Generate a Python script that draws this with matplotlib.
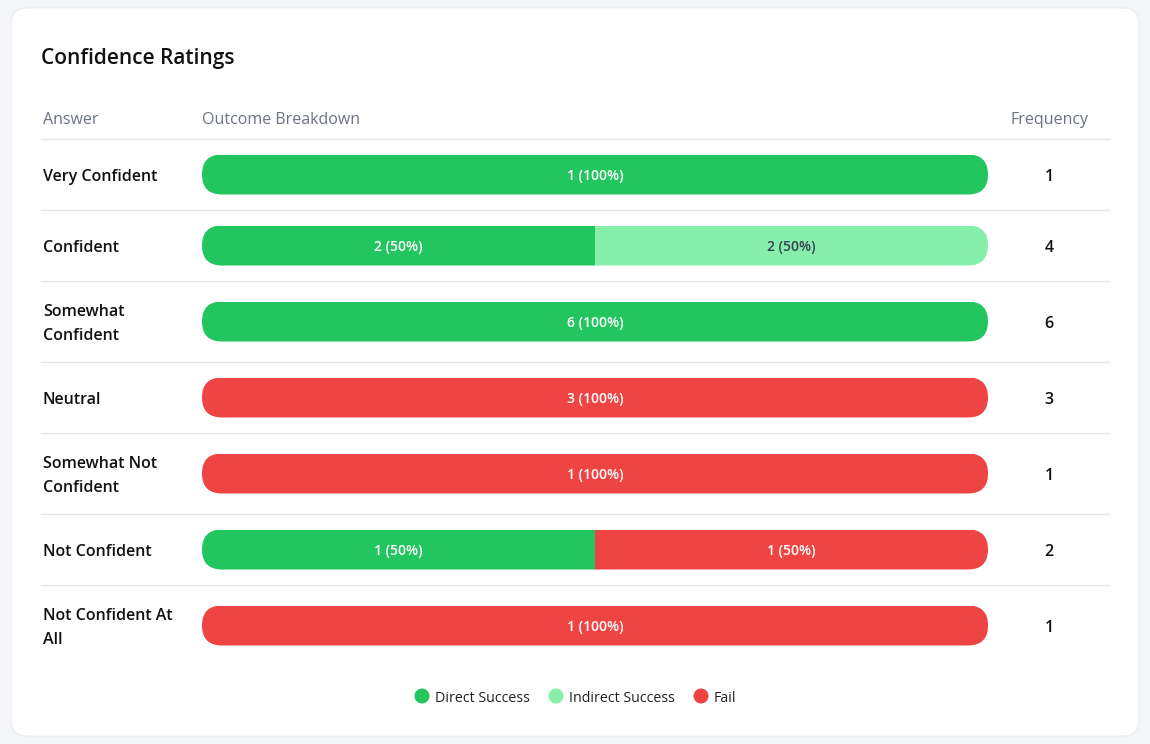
import matplotlib
matplotlib.use('Agg')
import matplotlib.pyplot as plt
from matplotlib.patches import FancyBboxPatch, Rectangle, Circle

# Daten
answers = ['Very Confident', 'Confident', 'Somewhat\nConfident', 'Neutral',
           'Somewhat Not\nConfident', 'Not Confident', 'Not Confident At\nAll']
direct = [1, 2, 6, 0, 0, 1, 0]
indirect = [0, 2, 0, 0, 0, 0, 0]
fail = [0, 0, 0, 3, 1, 1, 1]
frequency = [1, 4, 6, 3, 1, 2, 1]
outcomes = ['Direct Success', 'Indirect Success', 'Fail']

colors = ['#22c55e', '#86efac', '#ef4444']
text_colors = ['white', '#374151', 'white']

plt.rcParams['font.family'] = ['Open Sans', 'DejaVu Sans']

fig = plt.figure(figsize=(11.5, 7.44), dpi=100)
fig.patch.set_facecolor('#f5f6f8')
ax = fig.add_axes([0, 0, 1, 1])
ax.set_xlim(0, 1150)
ax.set_ylim(744, 0)
ax.axis('off')

# Karte
card = FancyBboxPatch((11, 8), 1128, 728, boxstyle='round,pad=0,rounding_size=16',
                      facecolor='white', edgecolor='#eceef1', linewidth=1)
ax.add_patch(card)

dy = 2.5  # Textversatz nach unten
ax.text(41, 56 + dy, 'Confidence Ratings', fontsize=15, fontweight='semibold',
        color='#111111', va='center', ha='left')

hdr_col = '#6b7280'
ax.text(43, 118 + dy, 'Answer', fontsize=11.5, fontweight='medium', color=hdr_col,
        va='center', ha='left')
ax.text(202, 118 + dy, 'Outcome Breakdown', fontsize=11.5, fontweight='medium',
        color=hdr_col, va='center', ha='left')
ax.text(1049, 118 + dy, 'Frequency', fontsize=11.5, fontweight='medium', color=hdr_col,
        va='center', ha='center')

line_col = '#e5e7eb'
bar_x0, bar_x1 = 202, 988
bar_h = 40
y = 139
ax.plot([41, 1109], [y, y], color=line_col, lw=1)
for i, name in enumerate(answers):
    row_h = 81 if '\n' in name else 71
    yc = y + row_h / 2
    ax.text(43, yc + dy, name, fontsize=11.5, fontweight='semibold', color='#111111',
            va='center', ha='left', linespacing=1.7)
    ax.text(1049, yc + dy, str(frequency[i]), fontsize=11.5, fontweight='semibold',
            color='#111111', va='center', ha='center')

    werte = [direct[i], indirect[i], fail[i]]
    total = sum(werte)
    pill = FancyBboxPatch((bar_x0, yc - bar_h / 2), bar_x1 - bar_x0, bar_h,
                          boxstyle='round,pad=0,rounding_size=20',
                          facecolor='none', edgecolor='none')
    ax.add_patch(pill)
    x = bar_x0
    for k, v in enumerate(werte):
        if v == 0:
            continue
        w = (bar_x1 - bar_x0) * v / total
        seg = Rectangle((x, yc - bar_h / 2), w, bar_h, facecolor=colors[k],
                        edgecolor='none')
        ax.add_patch(seg)
        seg.set_clip_path(pill)
        ax.text(x + w / 2, yc + 1.5, '%d (%d%%)' % (v, round(100 * v / total)),
                fontsize=10, fontweight='semibold', color=text_colors[k],
                va='center', ha='center')
        x += w
    y += row_h
    if i < len(answers) - 1:
        ax.plot([41, 1109], [y, y], color=line_col, lw=1)

# Legende
leg_x = [422, 556, 701]
for k, lab in enumerate(outcomes):
    ax.add_patch(Circle((leg_x[k], 696), 7.5, facecolor=colors[k], edgecolor='none'))
    ax.text(leg_x[k] + 13, 696 + 2, lab, fontsize=10.3, color='#222222',
            va='center', ha='left')

fig.savefig('out.png', dpi=100, facecolor=fig.get_facecolor())
